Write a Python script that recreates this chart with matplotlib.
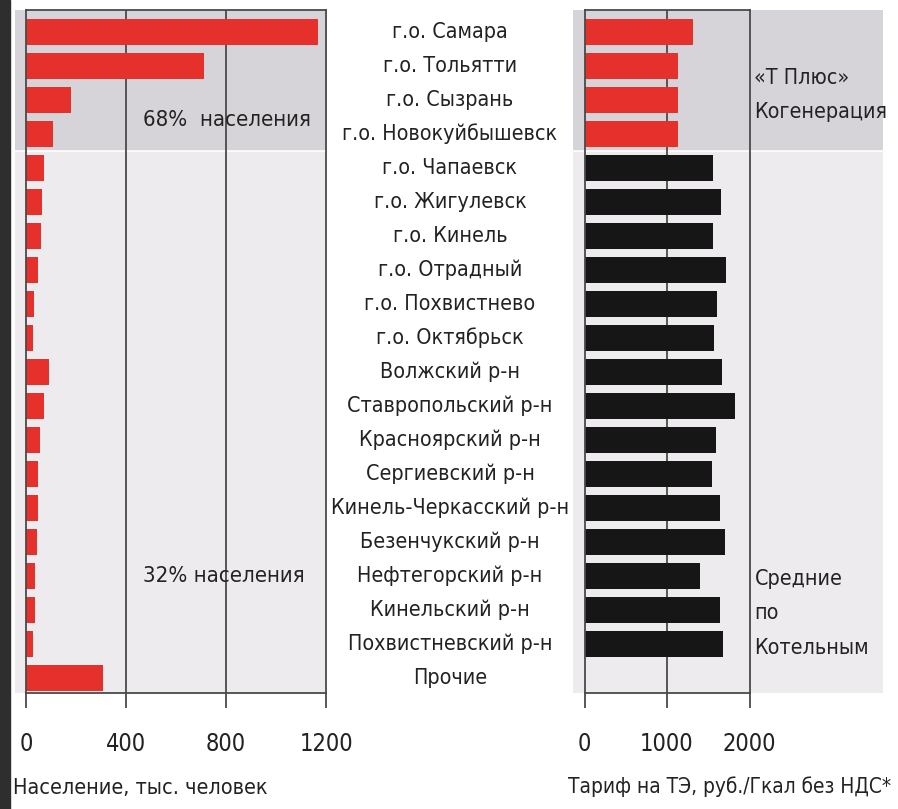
import matplotlib
matplotlib.use("Agg")
import matplotlib.pyplot as plt
import matplotlib.transforms as mtransforms
from matplotlib import font_manager
from matplotlib.patches import Rectangle

# Data
names = [
    "г.о. Самара", "г.о. Тольятти", "г.о. Сызрань", "г.о. Новокуйбышевск",
    "г.о. Чапаевск", "г.о. Жигулевск", "г.о. Кинель", "г.о. Отрадный",
    "г.о. Похвистнево", "г.о. Октябрьск", "Волжский р-н", "Ставропольский р-н",
    "Красноярский р-н", "Сергиевский р-н", "Кинель-Черкасский р-н",
    "Безенчукский р-н", "Нефтегорский р-н", "Кинельский р-н",
    "Похвистневский р-н", "Прочие",
]
population = [1168, 712, 179, 109, 73, 63, 59, 49, 31, 28, 92, 72, 57, 49,
              47, 43, 37, 35, 29, 309]
tariff = [1311, 1130, 1130, 1130, 1554, 1655, 1554, 1711, 1602, 1570, 1670,
          1824, 1590, 1542, 1642, 1703, 1400, 1642, 1675, None]
n_cogen = 4  # first rows: «Т Плюс» cogeneration

pop_ticks = [0, 400, 800, 1200]
tariff_ticks = [0, 1000, 2000]

RED = "#e6302b"
BLACK = "#161616"
UPPER_BG = "#d6d4d8"
LOWER_BG = "#eeebee"
GRID = "#4a4a4a"
TXT = "#222222"


# pick the narrowest font with Cyrillic glyphs, the original uses a condensed face
def stretch_val(s):
    if isinstance(s, str):
        return font_manager.stretch_dict.get(s, 500)
    return s


def has_cyrillic(path):
    try:
        cmap = font_manager.get_font(path).get_charmap()
    except Exception:
        return False
    return 0x416 in cmap and 0x44F in cmap


cands = []
for f in font_manager.fontManager.ttflist:
    if f.style != "normal" or f.weight not in (400, "normal", "regular"):
        continue
    narrowish = stretch_val(f.stretch) < 500 or "Narrow" in f.name or "Condensed" in f.name
    if narrowish and has_cyrillic(f.fname):
        cands.append(f)
cands.sort(key=lambda f: (stretch_val(f.stretch), f.name))
if cands:
    family, stretch = cands[0].name, cands[0].stretch
else:
    family, stretch = "Roboto", "normal"
plt.rcParams['font.family'] = [family, 'DejaVu Sans']
plt.rcParams['font.stretch'] = stretch

W, H = 898, 809
fig = plt.figure(figsize=(W / 100, H / 100), dpi=100)
fig.patch.set_facecolor("white")
renderer = fig.canvas.get_renderer()


def text_width(s, size):
    t = fig.text(0, 0, s, fontsize=size)
    w = t.get_window_extent(renderer).width
    t.remove()
    return w


# scale sizes so that widths match the reference
LAB = 18 * min(1.0, 237 / text_width("Кинель-Черкасский р-н", 18))
NUM = 24 * min(1.0, 54 / text_width("1200", 24))
NOTE = 22 * min(1.0, 162 / text_width("32% населения", 22))
XL = 20 * min(1.0, 254 / text_width("Население, тыс. человек", 20))
XL2 = 20 * min(1.0, 322 / text_width("Тариф на ТЭ, руб./Гкал без НДС*", 20))

# dark strip on the left edge
fig.patches.append(Rectangle((0, 0), 10 / W, 1, transform=fig.transFigure,
                             color="#2e2e2e", zorder=0))

y_top, y_bot = 10, 693
bottom = (H - y_bot) / H
height = (y_bot - y_top) / H
ylim = (19.44, -0.65)
rows = list(range(len(names)))


def px_to_fig(x):
    return x / W


def setup_axis(ax, xmax, ticks):
    ax.set_ylim(*ylim)
    ax.axhspan(ylim[1], n_cogen - 0.5, color=UPPER_BG, zorder=0, lw=0)
    ax.axhspan(n_cogen - 0.5, ylim[0], color=LOWER_BG, zorder=0, lw=0)
    ax.axhline(n_cogen - 0.5, color="white", lw=1.2, zorder=0.5)
    ax.set_facecolor("none")
    ax.set_yticks([])
    ax.set_xticks(ticks)
    ax.set_xticklabels([str(t) for t in ticks])
    for t in ticks[1:-1]:
        ax.axvline(t, color=GRID, lw=1.3, zorder=1)
    ax.spines['left'].set_position(('data', 0))
    ax.spines['right'].set_position(('data', xmax))
    ax.spines['top'].set_bounds(0, xmax)
    ax.spines['bottom'].set_bounds(0, xmax)
    for s in ax.spines.values():
        s.set_color(GRID)
        s.set_linewidth(1.3)
        s.set_zorder(3)
    ax.tick_params(axis='x', length=11, width=1.3, color=GRID, pad=17,
                   labelsize=NUM, labelcolor=TXT)


# left panel: population
ax1 = fig.add_axes([px_to_fig(15), bottom, px_to_fig(327 - 15), height])
ax1.set_xlim(-44, 1204)
setup_axis(ax1, 1200, pop_ticks)
ax1.barh(rows, population, height=0.78, color=RED, zorder=2)
ax1.text(468, 2.6, "68%  населения", fontsize=NOTE, color=TXT,
         va="center", ha="left", zorder=4)
ax1.text(468, 16.0, "32% населения", fontsize=NOTE, color=TXT,
         va="center", ha="left", zorder=4)
fig.text(px_to_fig(13), (H - 788) / H, "Население, тыс. человек",
         fontsize=XL, color=TXT, ha="left", va="center")

# right panel: tariff
ax2 = fig.add_axes([px_to_fig(573), bottom, px_to_fig(883 - 573), height])
ax2.set_xlim((573 - 584.5) / 0.0825, (883 - 584.5) / 0.0825)
setup_axis(ax2, 2000, tariff_ticks)
t_rows = [r for r, v in zip(rows, tariff) if v is not None]
t_vals = [v for v in tariff if v is not None]
t_cols = [RED if r < n_cogen else BLACK for r in t_rows]
ax2.barh(t_rows, t_vals, height=0.78, color=t_cols, zorder=2)
ax2.text(2060, 1.85, "«Т Плюс»\nКогенерация", fontsize=LAB, color=TXT,
         va="center", ha="left", linespacing=1.9, zorder=4)
ax2.text(2060, 17.1, "Средние\nпо\nКотельным", fontsize=LAB, color=TXT,
         va="center", ha="left", linespacing=1.9, zorder=4)
fig.text(px_to_fig(568), (H - 787) / H, "Тариф на ТЭ, руб./Гкал без НДС*",
         fontsize=XL2, color=TXT, ha="left", va="center")

# category labels between the panels
trans = mtransforms.blended_transform_factory(fig.transFigure, ax1.transData)
for r, name in zip(rows, names):
    fig.text(px_to_fig(450), r, name, transform=trans, fontsize=LAB,
             color=TXT, ha="center", va="center")

fig.savefig("out.png", dpi=100, facecolor=fig.get_facecolor())
